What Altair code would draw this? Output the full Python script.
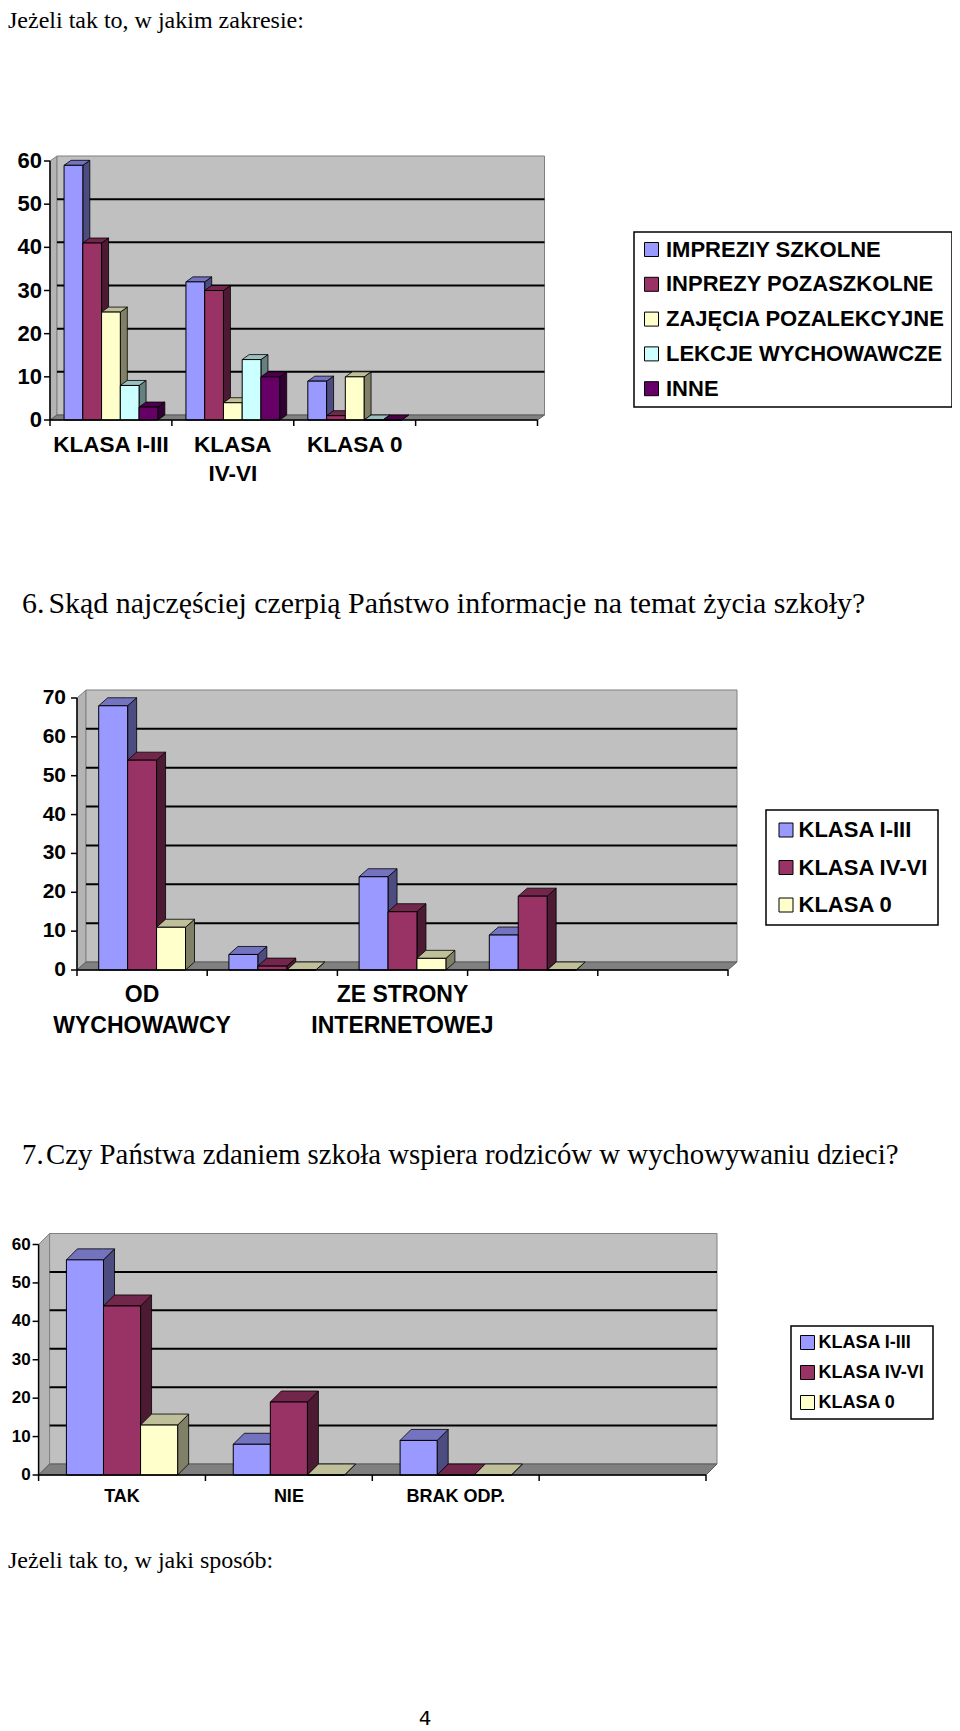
import altair as alt
import pandas as pd

# ---------------- text ----------------
text_q5_followup = "Jeżeli tak to, w jakim zakresie:"
text_q6_number = "6."
text_q6 = "Skąd najczęściej czerpią Państwo informacje na temat życia szkoły?"
text_q7_number = "7."
text_q7 = "Czy Państwa zdaniem szkoła wspiera rodziców w wychowywaniu dzieci?"
text_q7_followup = "Jeżeli tak to, w jaki sposób:"
page_number = "4"

# ---------------- chart 1 data ----------------
c1_categories = ["KLASA I-III", "KLASA IV-VI", "KLASA 0"]
c1_label_lines = [["KLASA I-III"], ["KLASA", "IV-VI"], ["KLASA 0"]]
c1_series = ["IMPREZIY SZKOLNE", "INPREZY POZASZKOLNE", "ZAJĘCIA POZALEKCYJNE",
             "LEKCJE WYCHOWAWCZE", "INNE"]
c1_imprezy_szkolne = [59, 32, 9]
c1_imprezy_pozaszkolne = [41, 30, 1]
c1_zajecia_pozalekcyjne = [25, 4, 10]
c1_lekcje_wychowawcze = [8, 14, 0]
c1_inne = [3, 10, 0]
c1_ticks = [0, 10, 20, 30, 40, 50, 60]

# ---------------- chart 2 data ----------------
c2_categories = ["OD WYCHOWAWCY", "", "ZE STRONY INTERNETOWEJ", ""]
c2_label_lines = [["OD", "WYCHOWAWCY"], [], ["ZE STRONY", "INTERNETOWEJ"], []]
c2_series = ["KLASA I-III", "KLASA IV-VI", "KLASA 0"]
c2_klasa_1_3 = [68, 4, 24, 9]
c2_klasa_4_6 = [54, 1, 15, 19]
c2_klasa_0 = [11, 0, 3, 0]
c2_ticks = [0, 10, 20, 30, 40, 50, 60, 70]

# ---------------- chart 3 data ----------------
c3_categories = ["TAK", "NIE", "BRAK ODP."]
c3_label_lines = [["TAK"], ["NIE"], ["BRAK ODP."]]
c3_series = ["KLASA I-III", "KLASA IV-VI", "KLASA 0"]
c3_klasa_1_3 = [56, 8, 9]
c3_klasa_4_6 = [44, 19, 0]
c3_klasa_0 = [13, 0, 0]
c3_ticks = [0, 10, 20, 30, 40, 50, 60]

colors5 = ["#9999FF", "#993366", "#FFFFCC", "#CCFFFF", "#660066"]
colors3 = ["#9999FF", "#993366", "#FFFFCC"]

W, H = 944, 1723
SANS = "Liberation Sans"
SERIF = "Liberation Serif"
TICK = 6


def shade(hex_color, f):
    h = hex_color.lstrip("#")
    r, g, b = (int(h[k:k + 2], 16) for k in (0, 2, 4))
    return "#%02X%02X%02X" % (round(r * f), round(g * f), round(b * f))


def bar3d(categories, label_lines, series, values, colors, ticks, nslots,
          x0, x1, y0, ytop, dx, dy, fs_tick, fs_cat, ypad, xpad, line_h, leg):
    ymax = ticks[-1]
    xs = alt.Scale(domain=[0, nslots], range=[x0, x1], nice=False, zero=False)
    ys = alt.Scale(domain=[0, ymax], range=[y0, ytop], nice=False, zero=False)
    xu = nslots / (x1 - x0)        # data units per pixel (x)
    yu = ymax / (y0 - ytop)        # data units per pixel (y)
    dxu, dyu = dx * xu, dy * yu
    n = len(series)
    bw = 1.0 / (n + 1.5)

    bars, faces = [], []
    for i, cat in enumerate(categories):
        for j, ser in enumerate(series):
            v = values[j][i]
            xl = i + 0.75 * bw + j * bw
            xr = xl + bw
            bars.append(dict(category=cat, series=ser, value=v, xl=xl, xr=xr, zero=0))
            top_c = shade(colors[j], 0.75)
            side_c = shade(colors[j], 0.5)
            pid = f"{i:02d}{j:02d}"
            faces += [
                dict(pid=pid + "a", fc=side_c, x=xr, y=v, y2=0),
                dict(pid=pid + "a", fc=side_c, x=xr + dxu, y=v + dyu, y2=dyu),
                dict(pid=pid + "b", fc=top_c, x=xl, y=v, y2=v),
                dict(pid=pid + "b", fc=top_c, x=xl + dxu, y=v + dyu, y2=v),
                dict(pid=pid + "b", fc=top_c, x=xr, y=v + dyu, y2=v),
                dict(pid=pid + "b", fc=top_c, x=xr + dxu, y=v + dyu, y2=v + dyu),
            ]

    back = pd.DataFrame([dict(x=dxu, x2=nslots + dxu, y=dyu, y2=ymax + dyu)])
    side_wall = pd.DataFrame([dict(x=0, y=ymax, y2=0), dict(x=dxu, y=ymax + dyu, y2=dyu)])
    floor = pd.DataFrame([dict(x=0, y=0, y2=0), dict(x=dxu, y=dyu, y2=0),
                          dict(x=nslots, y=dyu, y2=0), dict(x=nslots + dxu, y=dyu, y2=dyu)])
    grid = pd.DataFrame([dict(x=dxu, x2=nslots + dxu, y=g + dyu) for g in ticks[1:-1]])

    X = lambda f: alt.X(f, scale=xs, axis=None)
    Y = lambda f: alt.Y(f, scale=ys, axis=None, stack=None)

    l_side = alt.Chart(side_wall).mark_area(fill="#B4B4B4", stroke="#808080", strokeWidth=1).encode(
        x=X("x:Q"), y=Y("y:Q"), y2="y2:Q")
    l_back = alt.Chart(back).mark_rect(fill="#C0C0C0", stroke="#808080", strokeWidth=1).encode(
        x=X("x:Q"), x2="x2:Q", y=Y("y:Q"), y2="y2:Q")
    l_floor = alt.Chart(floor).mark_area(fill="#808080", stroke="#5A5A5A", strokeWidth=1).encode(
        x=X("x:Q"), y=Y("y:Q"), y2="y2:Q")
    l_grid = alt.Chart(grid).mark_rule(color="black", strokeWidth=2).encode(
        x=X("x:Q"), x2="x2:Q", y=Y("y:Q"))
    l_faces = alt.Chart(pd.DataFrame(faces)).mark_area(stroke="black", strokeWidth=0.8,
                                                       strokeJoin="round").encode(
        x=X("x:Q"), y=Y("y:Q"), y2="y2:Q", detail="pid:N",
        fill=alt.Fill("fc:N", scale=None))

    legend = alt.Legend(orient="none", legendX=leg["x"], legendY=leg["y"], title=None,
                        direction="vertical", fillColor="white", strokeColor="black",
                        padding=leg["pad"], symbolType="square", symbolSize=196,
                        symbolStrokeColor="black", symbolStrokeWidth=1, symbolOpacity=1,
                        labelFont=SANS, labelFontWeight="bold", labelFontSize=leg["fs"],
                        labelColor="black", labelOffset=leg["off"], rowPadding=leg["row"],
                        labelLimit=500)
    l_front = alt.Chart(pd.DataFrame(bars)).mark_bar(stroke="black", strokeWidth=1).encode(
        x=X("xl:Q"), x2="xr:Q", y=Y("value:Q"), y2="zero:Q",
        color=alt.Color("series:N", scale=alt.Scale(domain=series, range=colors), legend=legend))

    # ---- axes drawn through the same scales ----
    tk_x = TICK * xu
    tk_y = TICK * yu
    ytick_df = pd.DataFrame({"tick": ticks, "label": [str(t) for t in ticks],
                             "x": 0.0, "x2": -tk_x})
    l_ydomain = alt.Chart(pd.DataFrame([dict(x=0, y=0, y2=ymax)])).mark_rule(
        color="black", strokeWidth=1.5).encode(x=X("x:Q"), y=Y("y:Q"), y2="y2:Q")
    l_yticks = alt.Chart(ytick_df).mark_rule(color="black", strokeWidth=1.5).encode(
        x=X("x:Q"), x2="x2:Q", y=Y("tick:Q"))
    l_ylabels = alt.Chart(ytick_df).mark_text(
        align="right", baseline="middle", dx=-(TICK + ypad), font=SANS, fontWeight="bold",
        fontSize=fs_tick, color="black").encode(x=X("x:Q"), y=Y("tick:Q"), text="label:N")

    xtick_df = pd.DataFrame({"slot": list(range(nslots + 1)), "y": 0.0, "y2": -tk_y})
    xlab_df = pd.DataFrame({"center": [i + 0.5 for i in range(len(categories))],
                            "category": categories,
                            "label": ["\n".join(ln) for ln in label_lines], "y": 0.0})
    l_xdomain = alt.Chart(pd.DataFrame([dict(x=0, x2=nslots, y=0)])).mark_rule(
        color="black", strokeWidth=1.5).encode(x=X("x:Q"), x2="x2:Q", y=Y("y:Q"))
    l_xticks = alt.Chart(xtick_df).mark_rule(color="black", strokeWidth=1.5).encode(
        x=X("slot:Q"), y=Y("y:Q"), y2="y2:Q")
    l_xlabels = alt.Chart(xlab_df).mark_text(
        align="center", baseline="top", dy=TICK + xpad, lineBreak="\n", lineHeight=line_h,
        font=SANS, fontWeight="bold", fontSize=fs_cat, color="black").encode(
        x=X("center:Q"), y=Y("y:Q"), text="label:N")

    return alt.layer(l_side, l_back, l_floor, l_grid, l_faces, l_front,
                     l_ydomain, l_yticks, l_ylabels, l_xdomain, l_xticks, l_xlabels)


chart1 = bar3d(c1_categories, c1_label_lines, c1_series,
               [c1_imprezy_szkolne, c1_imprezy_pozaszkolne, c1_zajecia_pozalekcyjne,
                c1_lekcje_wychowawcze, c1_inne],
               colors5, c1_ticks, 4, 42, 529.5, 412, 153, 7, 5, 22, 22.5, 2, 8, 29,
               dict(x=626, y=224, pad=6.5, fs=22, off=3.5, row=12.8))
chart2 = bar3d(c2_categories, c2_label_lines, c2_series,
               [c2_klasa_1_3, c2_klasa_4_6, c2_klasa_0],
               colors3, c2_ticks, 5, 69, 720, 962, 690, 9, 8, 21, 23, 5, 8, 31,
               dict(x=758, y=802, pad=9, fs=22, off=1.5, row=15.5))
chart3 = bar3d(c3_categories, c3_label_lines, c3_series,
               [c3_klasa_1_3, c3_klasa_4_6, c3_klasa_0],
               colors3, c3_ticks, 4, 30.6, 698, 1467, 1236.5, 11, 11, 17, 18, 2, 7, 22,
               dict(x=783, y=1318, pad=7.5, fs=18, off=2, row=12))

dummy = pd.DataFrame({"k": [0]})


def text_layer(txt, x, y, font, size, align="left"):
    return alt.Chart(dummy).mark_text(text=txt, font=font, fontSize=size, align=align,
                                      baseline="alphabetic", color="black").encode(
        x=alt.value(x), y=alt.value(y))


texts = [
    text_layer(text_q5_followup, 0, 20, SERIF, 24),
    text_layer(text_q6_number, 14, 605, SERIF, 29.9),
    text_layer(text_q6, 40.5, 605, SERIF, 29.9),
    text_layer(text_q7_number, 14, 1156, SERIF, 28.8),
    text_layer(text_q7, 38, 1156, SERIF, 28.8),
    text_layer(text_q7_followup, 0, 1560, SERIF, 24),
    text_layer(page_number, 417, 1717, "DejaVu Sans", 20, "center"),
]

chart = alt.layer(chart1, chart2, chart3, *texts).resolve_scale(
    x="independent", y="independent", color="independent"
).properties(
    width=W, height=H, padding=0, autosize=alt.AutoSizeParams(type="none")
).configure_view(strokeWidth=0, strokeOpacity=0).configure_legend(strokeWidth=1.5)

chart.save("out.html", embed_options={"renderer": "svg", "actions": False})
